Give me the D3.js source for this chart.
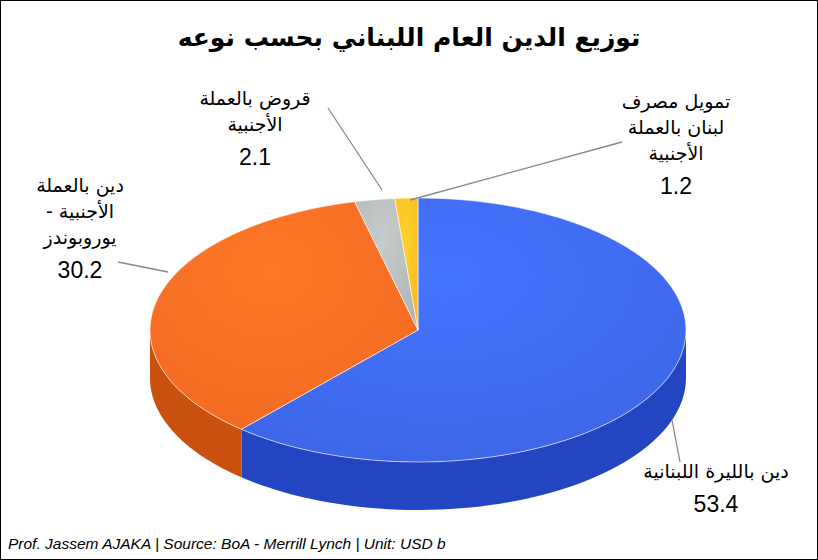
<!DOCTYPE html>
<html><head><meta charset="utf-8">
<script src="https://cdn.jsdelivr.net/npm/d3@7"></script>
<style>body{margin:0;background:#fff}</style>
</head><body>
<svg id="c" width="818" height="560"></svg>
<script>
// data
const labels = [["دين بالليرة اللبنانية"], ["دين بالعملة", "الأجنبية -", "يوروبوندز"], ["قروض بالعملة", "الأجنبية"], ["تمويل مصرف", "لبنان بالعملة", "الأجنبية"]];
const values = [53.4, 30.2, 2.1, 1.2];
const topColors = ["#3d66e6", "#f26a22", "#b0b4b4", "#f7b924"];
const sideColors = ["#2445c2", "#c9500f", "#888c8c", "#d49410"];

const svg = d3.select("#c");
svg.append("rect").attr("x", 0.5).attr("y", 0.5).attr("width", 817).attr("height", 559)
  .attr("fill", "#fff").attr("stroke", "#000");

const cx = 418, cy = 330, rx = 268, ry = 132, depth = 48;
const pt = (a, dy = 0) => [cx + rx * Math.sin(a), cy - ry * Math.cos(a) + dy];
const arcs = d3.pie().sort(null).value(d => d)(values);

const defs = svg.append("defs");
topColors.forEach((c, i) => {
  const g = defs.append("radialGradient").attr("id", "g" + i).attr("cx", "45%").attr("cy", "30%").attr("r", "75%");
  g.append("stop").attr("offset", "0%").attr("stop-color", d3.color(c).brighter(0.35));
  g.append("stop").attr("offset", "100%").attr("stop-color", c);
});

const line = d3.line();
// side walls
arcs.forEach((d, i) => {
  const a0 = Math.max(d.startAngle, Math.PI / 2), a1 = Math.min(d.endAngle, 3 * Math.PI / 2);
  if (a0 >= a1) return;
  const n = 60, s = d3.range(n + 1).map(k => a0 + (a1 - a0) * k / n);
  const pts = s.map(a => pt(a)).concat(s.slice().reverse().map(a => pt(a, depth)));
  svg.append("path").attr("d", line(pts) + "Z").attr("fill", sideColors[i]);
});
// tops
arcs.forEach((d, i) => {
  const n = Math.max(4, Math.ceil((d.endAngle - d.startAngle) * 40));
  const pts = [[cx, cy]].concat(d3.range(n + 1).map(k => pt(d.startAngle + (d.endAngle - d.startAngle) * k / n)));
  svg.append("path").attr("d", line(pts) + "Z").attr("fill", "url(#g" + i + ")")
    .attr("stroke", "#fff").attr("stroke-width", 0.6);
});

// label positions and leader lines
const labelPos = [[716, 478], [80, 192], [255, 105], [676, 108]];
const leaders = [[[672, 420], [680, 462]], [[168, 272], [118, 262]], [[382, 190], [328, 108]], [[410, 200], [622, 142]]];
leaders.forEach(l => svg.append("path").attr("d", line(l)).attr("stroke", "#888").attr("stroke-width", 1.3).attr("fill", "none"));

labels.forEach((ls, i) => {
  const [x, y] = labelPos[i];
  ls.forEach((t, j) => svg.append("text").attr("x", x).attr("y", y + j * 26)
    .attr("text-anchor", "middle").attr("direction", "rtl")
    .attr("font-family", "DejaVu Sans").attr("font-size", 19).text(t));
  svg.append("text").attr("x", x).attr("y", y + ls.length * 26 + 8)
    .attr("text-anchor", "middle").attr("font-family", "Liberation Sans, Arial")
    .attr("font-size", 23).text(values[i].toFixed(1));
});

svg.append("text").attr("x", 409).attr("y", 46).attr("text-anchor", "middle").attr("direction", "rtl")
  .attr("font-family", "DejaVu Sans").attr("font-weight", "bold").attr("font-size", 25)
  .text("توزيع الدين العام اللبناني بحسب نوعه");
svg.append("text").attr("x", 8).attr("y", 549).attr("font-family", "Liberation Sans, Arial")
  .attr("font-style", "italic").attr("font-size", 15.5)
  .text("Prof. Jassem AJAKA | Source: BoA - Merrill Lynch | Unit: USD b");
</script>
</body></html>
